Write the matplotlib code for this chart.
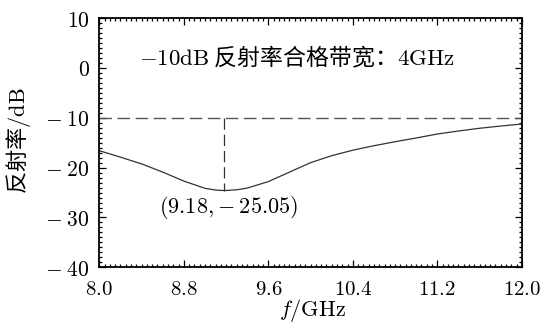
import matplotlib
matplotlib.use('Agg')
import matplotlib.pyplot as plt
from matplotlib.ticker import MultipleLocator, FuncFormatter

plt.rcParams['mathtext.fontset'] = 'cm'
plt.rcParams['font.family'] = ['Noto Sans CJK SC', 'DejaVu Sans']

# data
freq = [8.0, 8.2, 8.4, 8.6, 8.8, 9.0, 9.1, 9.18, 9.3, 9.4, 9.6, 9.8, 10.0,
        10.2, 10.4, 10.6, 10.8, 11.0, 11.2, 11.4, 11.6, 11.8, 12.0]
refl = [-16.6, -17.9, -19.25, -20.9, -22.7, -24.15, -24.5, -24.6, -24.45, -24.1, -22.8,
        -20.9, -19.0, -17.6, -16.5, -15.6, -14.8, -14.05, -13.25, -12.65, -12.1, -11.65,
        -11.25]
threshold = -10
min_f, min_db = 9.18, -25.05
bandwidth = 4
x_ticks = [8.0, 8.8, 9.6, 10.4, 11.2, 12.0]
y_ticks = [-40, -30, -20, -10, 0, 10]

fig = plt.figure(figsize=(5.43, 3.24), dpi=100)
ax = fig.add_axes([0.183, 0.175, 0.778, 0.769])

ax.plot(freq, refl, color='#333333', lw=0.9)
ax.axhline(threshold, color='#555555', lw=1.0, dashes=(9, 4))
# vertical marker from the -10 dB line down to the curve minimum
ax.plot([min_f, min_f], [threshold, min(refl)], color='#333333', lw=0.9, dashes=(9, 4))

ax.set_xlim(8.0, 12.0)
ax.set_ylim(-40, 10)
ax.set_xticks(x_ticks)
ax.set_yticks(y_ticks)
ax.xaxis.set_minor_locator(MultipleLocator(0.05))
ax.yaxis.set_minor_locator(MultipleLocator(1))
ax.xaxis.set_major_formatter(FuncFormatter(lambda v, p: r'$%.1f$' % v))
ax.yaxis.set_major_formatter(FuncFormatter(
    lambda v, p: (r'$-\;%d$' % abs(v)) if v < 0 else r'$%d$' % v))
ax.tick_params(which='both', direction='in', top=True, right=True,
               width=0.9, colors='black')
ax.tick_params(which='major', length=5)
ax.tick_params(axis='y', which='major', pad=7, labelsize=15.5)
ax.tick_params(axis='x', which='major', pad=8, labelsize=15)
ax.tick_params(which='minor', length=2.5)
for s in ax.spines.values():
    s.set_linewidth(1.3)

ax.text(9.87, 2.2, r'$-10\mathrm{dB}$ 反射率合格带宽：$%d\mathrm{GHz}$' % bandwidth,
        ha='center', va='center', fontsize=16.5)
ax.text(9.227, -28.0, r'$(%.2f,\!-%.2f)$' % (min_f, abs(min_db)),
        ha='center', va='center', fontsize=16)

ax.set_xlabel(r'$f/\mathrm{GHz}$', fontsize=16)
ax.set_ylabel(r'反射率$/\mathrm{dB}$', fontsize=16)
ax.xaxis.set_label_coords(0.505, -0.12)
ax.yaxis.set_label_coords(-0.157, 0.507)

fig.savefig('out.png', dpi=100)
